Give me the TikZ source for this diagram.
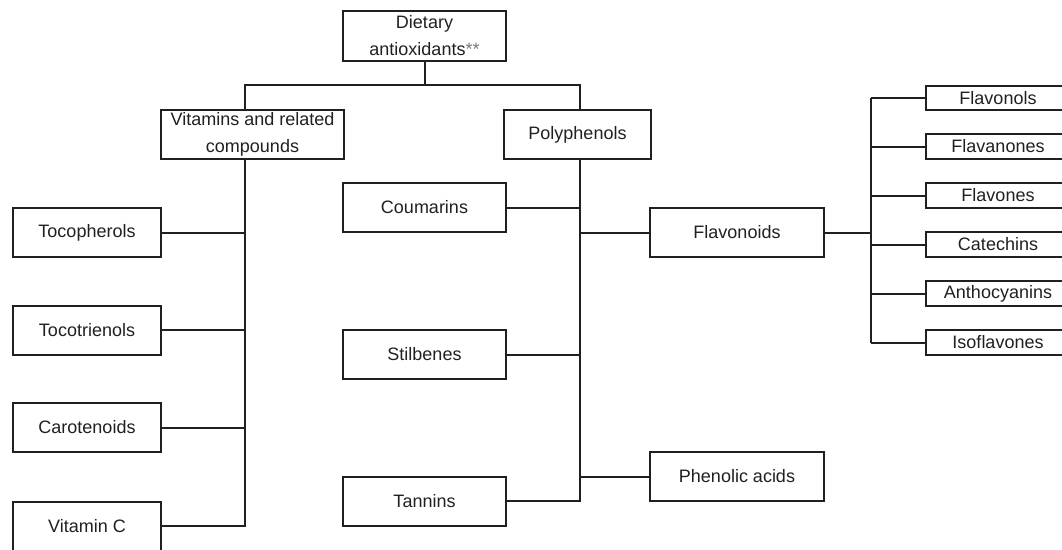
\documentclass[tikz,border=0pt]{standalone}
\usepackage{fontspec}
\setmainfont{Liberation Sans}
\definecolor{ink}{HTML}{231F20}

\begin{document}
\begin{tikzpicture}[x=1pt,y=-1pt,
	every node/.style={font=\fontsize{18}{27}\selectfont, text=ink},
	box/.style={draw=ink, line width=2pt, align=center, inner sep=0pt, minimum height=49pt},
	smallbox/.style={box, minimum width=144pt, minimum height=24.5pt},
	link/.style={draw=ink, line width=2pt}]
	\useasboundingbox (0,0) rectangle (1062,549);

	\node [box, minimum width=163pt, minimum height=50pt] (diet) at (424.5,36) {Dietary\\antioxidants{\color{ink!60}**}};
	\node [box, minimum width=183pt] (vit) at (252.5,134.5) {Vitamins and related\\compounds};
	\node [box, minimum width=147pt] (poly) at (577.5,134.5) {Polyphenols};

	\node [box, minimum width=148pt] (toco) at (87,232.5) {Tocopherols};
	\node [box, minimum width=148pt] (tocot) at (87,330) {Tocotrienols};
	\node [box, minimum width=148pt] (carot) at (87,427.5) {Carotenoids};
	\node [box, minimum width=148pt] (vitc) at (87,526) {Vitamin C};

	\node [box, minimum width=163pt] (coum) at (424.5,207.5) {Coumarins};
	\node [box, minimum width=163pt] (stil) at (424.5,354.5) {Stilbenes};
	\node [box, minimum width=163pt] (tann) at (424.5,501) {Tannins};

	\node [box, minimum width=174pt] (flav) at (737,232.5) {Flavonoids};
	\node [box, minimum width=174pt] (phen) at (737,476.5) {Phenolic acids};

	\node [smallbox] (fl1) at (998,98) {Flavonols};
	\node [smallbox] (fl2) at (998,146.5) {Flavanones};
	\node [smallbox] (fl3) at (998,195.5) {Flavones};
	\node [smallbox] (fl4) at (998,244.5) {Catechins};
	\node [smallbox] (fl5) at (998,293.5) {Anthocyanins};
	\node [smallbox] (fl6) at (998,342.5) {Isoflavones};

	\coordinate (vj) at (245,85);
	\coordinate (pj) at (580,85);
	\coordinate (fj) at (871,98);

	\path [link] (diet.south) -- (diet.south |- vj);
	\path [link] (vit.north -| vj) -- (vj) -- (pj) -- (poly.north -| pj);

	\path [link] (vit.south -| vj) -- (vj |- vitc.east) -- (vitc.east);
	\foreach \n in {toco,tocot,carot}
		\path [link] (\n.east) -- (\n.east -| vj);

	\path [link] (poly.south -| pj) -- (pj |- tann.east) -- (tann.east);
	\foreach \n in {coum,stil}
		\path [link] (\n.east) -- (\n.east -| pj);
	\foreach \n in {flav,phen}
		\path [link] (\n.west) -- (\n.west -| pj);

	\path [link] (flav.east) -- (flav.east -| fj);
	\path [link] (fj |- fl1.west) -- (fj |- fl6.west);
	\foreach \n in {fl1,fl2,fl3,fl4,fl5,fl6}
		\path [link] (\n.west) -- (\n.west -| fj);
\end{tikzpicture}
\end{document}
